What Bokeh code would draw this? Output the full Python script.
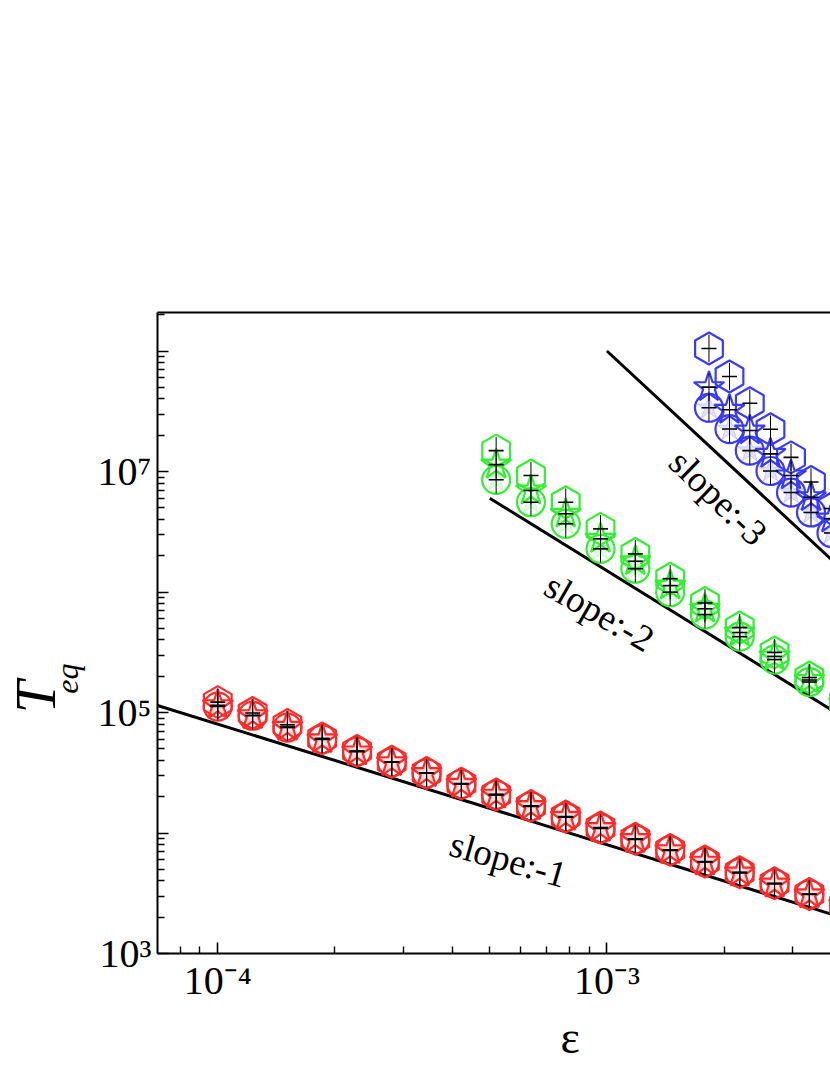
import numpy as np
from bokeh.plotting import figure
from bokeh.layouts import row
from bokeh.models import (FixedTicker, CustomJSTickFormatter, LogAxis, Label, Range1d, Title)
from bokeh.core.properties import value
from bokeh.embed import file_html
from bokeh.resources import INLINE

# ---------------- data ----------------
eps_red = [1.000e-4, 1.229e-4, 1.510e-4, 1.855e-4, 2.279e-4, 2.800e-4, 3.440e-4,
           4.226e-4, 5.192e-4, 6.379e-4, 7.837e-4, 9.629e-4, 1.183e-3, 1.454e-3,
           1.786e-3, 2.194e-3, 2.696e-3, 3.312e-3, 4.069e-3]
T_red_circle = [1.12e5, 9.4e4, 7.5e4, 5.98e4, 4.74e4, 3.86e4, 3.13e4, 2.55e4, 2.07e4,
                1.66e4, 1.35e4, 1.09e4, 8.83e3, 7.18e3, 5.74e3, 4.67e3, 3.79e3, 3.09e3, 2.50e3]
T_red_star = [1.15e5, 9.5e4, 7.6e4, 6.0e4, 4.75e4, 3.87e4, 3.14e4, 2.56e4, 2.08e4,
              1.67e4, 1.36e4, 1.10e4, 8.9e3, 7.2e3, 5.78e3, 4.7e3, 3.8e3, 3.1e3, 2.52e3]
T_red_hex = [1.22e5, 9.9e4, 7.9e4, 6.1e4, 4.8e4, 3.9e4, 3.15e4, 2.57e4, 2.09e4,
             1.68e4, 1.37e4, 1.11e4, 8.95e3, 7.25e3, 5.8e3, 4.72e3, 3.83e3, 3.12e3, 2.53e3]

eps_green = [5.192e-4, 6.379e-4, 7.837e-4, 9.629e-4, 1.183e-3, 1.454e-3,
             1.786e-3, 2.194e-3, 2.696e-3, 3.312e-3, 4.069e-3]
T_green_circle = [8.53e6, 5.56e6, 3.68e6, 2.28e6, 1.56e6, 9.96e5, 6.50e5, 4.26e5, 2.75e5, 1.79e5, 1.13e5]
T_green_star = [1.14e7, 6.95e6, 4.46e6, 2.76e6, 1.80e6, 1.13e6, 7.26e5, 4.61e5, 2.92e5, 1.86e5, 1.19e5]
T_green_hex = [1.49e7, 9.27e6, 5.56e6, 3.34e6, 2.07e6, 1.29e6, 8.11e5, 5.07e5, 3.15e5, 1.95e5, 1.23e5]

eps_blue = [1.829e-3, 2.065e-3, 2.329e-3, 2.632e-3, 2.972e-3, 3.345e-3, 3.776e-3]
T_blue_circle = [3.38e7, 2.25e7, 1.49e7, 1.01e7, 6.69e6, 4.57e6, 3.09e6]
T_blue_star = [5.01e7, 3.25e7, 2.19e7, 1.40e7, 9.27e6, 6.12e6, 4.07e6]
T_blue_hex = [1.05e8, 6.14e7, 3.68e7, 2.24e7, 1.31e7, 8.18e6, 4.93e6]

err_factor = 1.3

# guide lines (end points)
line1_eps = [7.0e-5, 5.0e-3]
line1_T = [1.143e5, 1.6e3]
line2_eps = [5.0e-4, 5.0e-3]
line2_T = [6.0e6, 6.0e4]
line3_eps = [1.0e-3, 5.0e-3]
line3_T = [1.0e8, 8.0e5]

slope_texts = ["slope:-1", "slope:-2", "slope:-3"]
slope_x = [5.58e-4, 9.57e-4, 1.934e-3]
slope_y = [6.03e3, 6.76e5, 6.08e6]
slope_angle_deg = [-16, -30, -44]

x_major = [1e-4, 1e-3]
x_labeled_exp = [-4, -3]
x_minor = [8e-5, 9e-5, 2e-4, 3e-4, 4e-4, 5e-4, 6e-4, 7e-4, 8e-4, 9e-4, 2e-3, 3e-3]
y_major = [1e3, 1e4, 1e5, 1e6, 1e7, 1e8]
y_labeled_exp = [3, 5, 7]

RED = "#ff2a2a"
GREEN = "#33ee33"
BLUE = "#3a3aff"
SERIF = "Liberation Serif"

# ---------------- main figure ----------------
p = figure(width=740, height=1075, x_axis_type="log", y_axis_type="log",
           x_range=Range1d(7.0e-5, 3.754e-3), y_range=Range1d(1e3, 2.087e8),
           output_backend="svg", toolbar_location=None,
           min_border_left=67, min_border_right=0, min_border_top=312,
           min_border_bottom=122)
p.outline_line_color = None
p.grid.visible = False

y_minor = [k * d for d in [1e3, 1e4, 1e5, 1e6, 1e7, 1e8] for k in range(2, 10)]

fmt_code = """
const sup = {"0":"\u2070","1":"\u00b9","2":"\u00b2","3":"\u00b3","4":"\u2074","5":"\u2075",
             "6":"\u2076","7":"\u2077","8":"\u2078","9":"\u2079","-":"\u207b"};
const e = Math.round(Math.log10(tick));
if (!labeled.includes(e)) return "";
return "10" + String(e).split("").map(c => sup[c]).join("");
"""

xa = p.xaxis[0]
xa.ticker = FixedTicker(ticks=x_major, minor_ticks=x_minor)
xa.formatter = CustomJSTickFormatter(args=dict(labeled=x_labeled_exp), code=fmt_code)
ya = p.yaxis[0]
ya.ticker = FixedTicker(ticks=y_major, minor_ticks=y_minor)
ya.formatter = CustomJSTickFormatter(args=dict(labeled=y_labeled_exp), code=fmt_code)

for ax in (xa, ya):
    ax.axis_line_width = 2
    ax.axis_line_color = "black"
    ax.major_tick_in = 11
    ax.major_tick_out = 0
    ax.minor_tick_in = 7
    ax.minor_tick_out = 0
    ax.major_tick_line_width = 1.6
    ax.minor_tick_line_width = 1.4
    ax.major_tick_line_color = "black"
    ax.minor_tick_line_color = "black"
    ax.major_label_text_font = SERIF
    ax.major_label_text_font_size = "40px"
    ax.major_label_text_color = "black"
xa.major_label_standoff = 4
ya.major_label_standoff = 6

top = LogAxis(ticker=FixedTicker(ticks=[]), axis_line_width=2, axis_line_color="black",
              major_tick_in=0, major_tick_out=0, minor_tick_in=0, minor_tick_out=0,
              major_label_text_font_size="0px")
p.add_layout(top, "above")

# epsilon label below the x axis
p.add_layout(Title(text="\u03b5", align="left", offset=403, standoff=8,
                   text_font=SERIF, text_font_style="normal", text_font_size="46px",
                   text_color="black"), "below")

# guide lines
for lx, ly in ((line1_eps, line1_T), (line2_eps, line2_T), (line3_eps, line3_T)):
    p.line(lx, ly, line_color="black", line_width=3)

# markers
def draw_series(eps, tc, ts, th, color):
    p.scatter(eps, tc, marker="star", size=25, fill_color=color, fill_alpha=0.15,
              line_color=color, line_alpha=0.2, line_width=1)
    p.scatter(eps, tc, marker="circle", size=28, fill_color=None, line_color=color, line_width=2.2)
    p.scatter(eps, ts, marker="star", size=32, fill_color=None, line_color=color, line_width=2.2)
    p.scatter(eps, th, marker="hex", size=32, angle=np.pi / 6, fill_color=None,
              line_color=color, line_width=2.2)
    for t in (tc, ts, th):
        lo = [v / err_factor for v in t]
        hi = [v * err_factor for v in t]
        p.segment(eps, lo, eps, hi, line_color="black", line_width=1)
        p.scatter(eps, t, marker="dash", size=15, line_color="black", line_width=1.6)

draw_series(eps_red, T_red_circle, T_red_star, T_red_hex, RED)
draw_series(eps_green, T_green_circle, T_green_star, T_green_hex, GREEN)
draw_series(eps_blue, T_blue_circle, T_blue_star, T_blue_hex, BLUE)

# slope annotations
for txt, sx, sy, ang in zip(slope_texts, slope_x, slope_y, slope_angle_deg):
    p.add_layout(Label(x=sx, y=sy, text=txt, angle=np.deg2rad(ang), text_font=SERIF,
                       text_font_size="37px", text_align="center", text_baseline="middle",
                       text_color="black"))

# ---------------- narrow figure holding the y-axis title T_eq ----------------
lab = figure(width=90, height=1075, x_range=Range1d(0, 90), y_range=Range1d(0, 1075),
             output_backend="svg", toolbar_location=None,
             min_border_left=0, min_border_right=0, min_border_top=0, min_border_bottom=0)
lab.axis.visible = False
lab.grid.visible = False
lab.outline_line_color = None
lab.text(x=[35], y=[1075 - 645], text=["T"], angle=np.pi / 2, text_font=value(SERIF),
         text_font_style="italic", text_font_size="58px", text_align="center",
         text_baseline="middle", text_color="black")
lab.text(x=[66], y=[1075 - 614], text=["eq"], angle=np.pi / 2, text_font=value(SERIF),
         text_font_style="italic", text_font_size="32px", text_align="center",
         text_baseline="middle", text_color="black")

layout = row(lab, p, spacing=0)

with open("out.html", "w", encoding="utf-8") as f:
    f.write(file_html(layout, INLINE))
